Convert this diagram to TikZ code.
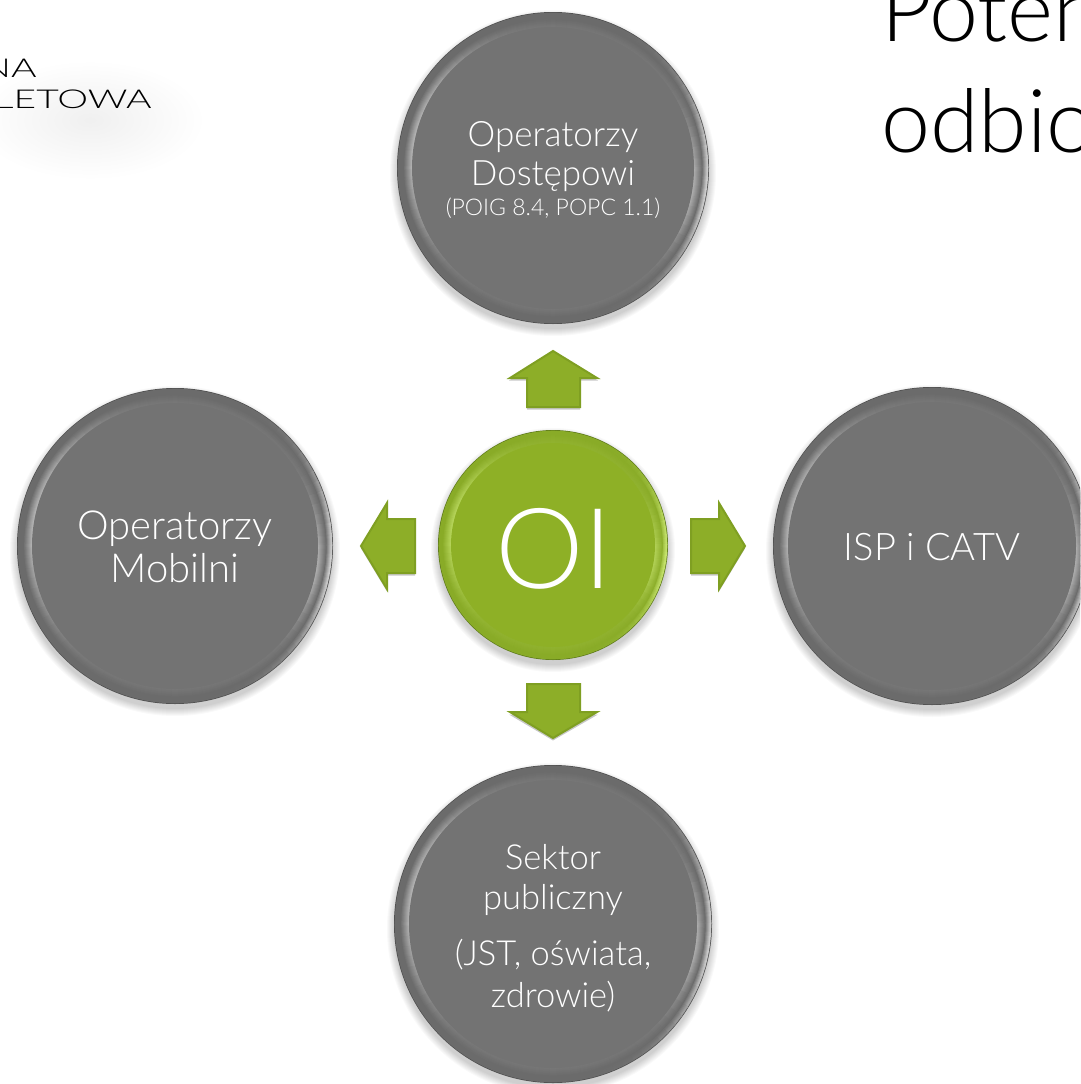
\documentclass[tikz,border=0pt]{standalone}
\usepackage{fontspec}
\setmainfont{Carlito}
\newfontfamily\lightfont{Lato Light}
\usetikzlibrary{calc}
\definecolor{discgray}{HTML}{737373}
\definecolor{ringgray}{HTML}{6B6B6B}
\definecolor{edgegray}{HTML}{4F4F4F}
\definecolor{discgreen}{HTML}{8EB026}
\definecolor{ringgreen}{HTML}{89AB27}
\definecolor{edgegreen}{HTML}{5E7A1C}
\definecolor{glowgreen}{HTML}{E4FF90}
\definecolor{arrowgreen}{HTML}{8DAE28}
\definecolor{arrowedge}{HTML}{7F9F22}
\newcommand{\smalltxt}{\fontsize{23}{26}\selectfont}
\tikzset{
  disctext/.style={text=white,align=center,font=\lightfont\fontsize{#1}{#1}\selectfont},
  blockarrow/.style={fill=arrowgreen,draw=arrowedge,line width=2pt,line join=miter},
  arrowshadow/.style={fill=black,opacity=0.22,shift={(0,2.5)}},
}
% #1 x, #2 y, #3 radius, #4 rim width, #5 disc, #6 ring, #7 edge, #8 highlight
\newcommand{\bevel}[8]{%
  \foreach \k in {1,...,8}{\fill[black,opacity=0.022] (#1,#2+5) circle ({#3+8-\k});}
  \fill[#7] (#1,#2) circle (#3);
  \fill[#6] (#1,#2) circle (#3-1.5);
  \foreach \a in {0,4,...,356}{%
    \foreach \d in {5,4,...,1}{%
      \pgfmathsetmacro{\pa}{(1-(\d-1)/5)*65*max(0,cos(\a-8))^5}%
      \colorlet{segcol}{#8!\pa!#6}%
      \draw[segcol,line width=1.6pt] ($(#1,#2)+(\a:#3-\d-0.5)$) arc[start angle=\a,delta angle=-4.6,radius=#3-\d-0.5];
    }
    \foreach \d in {7,6,...,0}{%
      \pgfmathsetmacro{\pb}{(1-\d/8)*(8+42*max(0,cos(\a-195))^4+38*max(0,cos(\a-10))^12)}%
      \colorlet{segcol}{#8!\pb!#6}%
      \draw[segcol,line width=1.6pt] ($(#1,#2)+(\a:#3-#4+\d)$) arc[start angle=\a,delta angle=-4.6,radius=#3-#4+\d];
    }
  }
  \fill[#5] (#1,#2) circle (#3-#4);
}
\begin{document}
\begin{tikzpicture}[x=1pt,y=-1pt]
\useasboundingbox (0,0) rectangle (1080,1084);
\clip (0,0) rectangle (1080,1084);
\fill[white] (0,0) rectangle (1080,1084);
% logo shadow
\shade[inner color=black!6,outer color=white] (90,120) ellipse (115 and 60);
\node[anchor=base east,inner sep=0,xscale=1.5,font=\lightfont\fontsize{26}{26}\selectfont] (logoa) at (37,77) {NA};
\node[anchor=base east,inner sep=0,xscale=1.5,font=\lightfont\fontsize{26}{26}\selectfont] (logob) at (152,108) {LETOWA};
% title
\node[anchor=base west,inner sep=0,font=\lightfont\fontsize{88}{88}\selectfont] (titlea) at (881,41) {Poten};
\node[anchor=base west,inner sep=0,font=\lightfont\fontsize{88}{88}\selectfont] (titleb) at (881,152) {odbio};
% discs
\bevel{553}{168}{156}{15}{discgray}{ringgray}{edgegray}{white}
\bevel{175}{546}{158}{15}{discgray}{ringgray}{edgegray}{white}
\bevel{932}{546}{159}{15}{discgray}{ringgray}{edgegray}{white}
\bevel{553}{924}{159}{15}{discgray}{ringgray}{edgegray}{white}
\bevel{553}{545}{115}{13}{discgreen}{ringgreen}{edgegreen}{glowgreen}
\node[disctext=35,anchor=base,inner sep=0] (top) at (553,215) {Operatorzy\\[3.5pt]Dostępowi\\[-5pt]{\smalltxt (POIG 8.4, POPC 1.1)}};
\node[disctext=40,anchor=base,inner sep=0] (left) at (175,582) {Operatorzy\\[3pt]Mobilni};
\node[disctext=38,anchor=base,inner sep=0] (right) at (932,560) {ISP i CATV};
\node[disctext=34.5,anchor=base,inner sep=0] (bottom) at (553,1007) {Sektor\\[5.5pt]publiczny\\[21.5pt](JST, oświata,\\[7pt]zdrowie)};
\node[text=white,inner sep=0,font=\lightfont\fontsize{112}{112}\selectfont] (center) at (554,549) {OI};
% arrows
\fill[arrowshadow] (553,351) -- (598,378) -- (580,378) -- (580,407) -- (527,407) -- (527,378) -- (509,378) -- cycle;
\fill[arrowshadow] (553,738) -- (598,712) -- (580,712) -- (580,684) -- (527,684) -- (527,712) -- (509,712) -- cycle;
\fill[arrowshadow] (361,546) -- (387,503) -- (387,519) -- (415,519) -- (415,573) -- (387,573) -- (387,589) -- cycle;
\fill[arrowshadow] (745,546) -- (719,503) -- (719,519) -- (691,519) -- (691,573) -- (719,573) -- (719,589) -- cycle;
\draw[blockarrow] (553,351) -- (597,378) -- (580,378) -- (580,407) -- (527,407) -- (527,378) -- (510,378) -- cycle;
\draw[blockarrow] (553,738) -- (597,712) -- (580,712) -- (580,684) -- (527,684) -- (527,712) -- (510,712) -- cycle;
\draw[blockarrow] (361,546) -- (387,503) -- (387,519) -- (415,519) -- (415,573) -- (387,573) -- (387,589) -- cycle;
\draw[blockarrow] (745,546) -- (719,503) -- (719,519) -- (691,519) -- (691,573) -- (719,573) -- (719,589) -- cycle;
\end{tikzpicture}
\end{document}
